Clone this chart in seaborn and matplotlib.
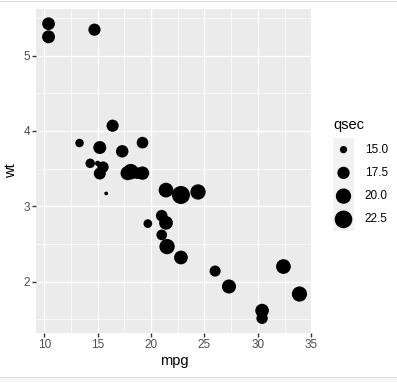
import numpy as np
import pandas as pd
import seaborn as sns
import matplotlib.pyplot as plt
from matplotlib.ticker import MultipleLocator
from matplotlib.patches import Rectangle

# mtcars: mpg, wt, qsec
mpg = [21.0, 21.0, 22.8, 21.4, 18.7, 18.1, 14.3, 24.4, 22.8, 19.2, 17.8,
       16.4, 17.3, 15.2, 10.4, 10.4, 14.7, 32.4, 30.4, 33.9, 21.5, 15.5,
       15.2, 13.3, 19.2, 27.3, 26.0, 30.4, 15.8, 19.7, 15.0, 21.4]
wt = [2.620, 2.875, 2.320, 3.215, 3.440, 3.460, 3.570, 3.190, 3.150, 3.440,
      3.440, 4.070, 3.730, 3.780, 5.250, 5.424, 5.345, 2.200, 1.615, 1.835,
      2.465, 3.520, 3.435, 3.840, 3.845, 1.935, 2.140, 1.513, 3.170, 2.770,
      3.570, 2.780]
qsec = [16.46, 17.02, 18.61, 19.44, 17.02, 20.22, 15.84, 20.00, 22.90, 18.30,
        18.90, 17.40, 17.60, 18.00, 17.98, 17.82, 17.42, 19.47, 18.52, 19.90,
        20.01, 16.87, 17.30, 15.41, 17.05, 18.90, 16.70, 16.90, 14.50, 15.50,
        14.60, 18.60]
legend_breaks = [15.0, 17.5, 20.0, 22.5]

df = pd.DataFrame({"mpg": mpg, "wt": wt, "qsec": qsec})
qmin, qmax = min(qsec), max(qsec)


def gg_area(q):
    # ggplot2 scale_size (area palette, range 1..6) converted to matplotlib s
    size = 1 + 5 * np.sqrt((q - qmin) / (qmax - qmin))
    fontsize = size * 72.27 / 25.4 + 0.5 * (96 / 25.4) / 2
    diam_px = 0.75 * fontsize * 96 / 72
    return (diam_px * 72 / 100) ** 2


sns.set_style("darkgrid", {"axes.facecolor": "#EBEBEB", "grid.color": "white"})
plt.rcParams["font.family"] = ["Liberation Sans", "DejaVu Sans"]

W, H = 397, 382
fig = plt.figure(figsize=(W / 100, H / 100), dpi=100)

# thin viewer frame lines seen at the top and bottom of the screenshot
fig.add_artist(Rectangle((0, 1 - 2 / H), 1, 1 / H, transform=fig.transFigure,
                         color="#D6DBDD", linewidth=0))
fig.add_artist(Rectangle((0, 0), 1, 5 / H, transform=fig.transFigure,
                         color="#F5F6F7", linewidth=0))
fig.add_artist(Rectangle((0, 4 / H), 1, 1 / H, transform=fig.transFigure,
                         color="#D6DBDD", linewidth=0))

ax = fig.add_axes([36 / W, 1 - 333 / H, (312 - 36) / W, (333 - 9) / H])

sns.scatterplot(
    df, x="mpg", y="wt", size="qsec",
    sizes={q: gg_area(q) for q in df["qsec"].unique()},
    color="black", linewidth=0, legend=False, ax=ax, zorder=3,
)

ax.set_xlim(9.225, 35.075)
ax.set_ylim(1.3175, 5.6195)
ax.xaxis.set_major_locator(MultipleLocator(5))
ax.yaxis.set_major_locator(MultipleLocator(1))
ax.xaxis.set_minor_locator(MultipleLocator(2.5))
ax.yaxis.set_minor_locator(MultipleLocator(0.5))
ax.grid(which="major", color="white", linewidth=1.0)
ax.grid(which="minor", color="white", linewidth=0.5)
ax.set_axisbelow(True)
for s in ax.spines.values():
    s.set_visible(False)
ax.tick_params(which="major", length=2.64, width=1.0, color="#333333",
               labelsize=8.45, labelcolor="#4D4D4D", pad=1.6,
               bottom=True, left=True)
ax.tick_params(which="minor", length=0)
ax.set_xlabel("mpg", fontsize=10.56, color="black", labelpad=2)
ax.set_ylabel("wt", fontsize=10.56, color="black", labelpad=4)

# legend drawn by hand, ggplot style
lax = fig.add_axes([333 / W, 1 - 231 / H, 21 / W, 93 / H])
lax.set_facecolor("#F2F2F2")
lax.grid(False)
for s in lax.spines.values():
    s.set_visible(False)
lax.set_xticks([])
lax.set_yticks([])
lax.set_xlim(0, 1)
lax.set_ylim(len(legend_breaks) - 0.5, -0.5)
idx = np.arange(len(legend_breaks))
lax.scatter(np.full(len(idx), 0.5), idx, s=[gg_area(b) for b in legend_breaks],
            color="black", linewidth=0)
for i, b in enumerate(legend_breaks):
    lax.text(1.52, i, f"{b:.1f}", fontsize=8.45, color="black",
             va="center", ha="left", clip_on=False)
fig.text(333 / W, 1 - 125 / H, "qsec", fontsize=10.56, color="black",
         va="center", ha="left")

fig.savefig("out.png", dpi=100)
